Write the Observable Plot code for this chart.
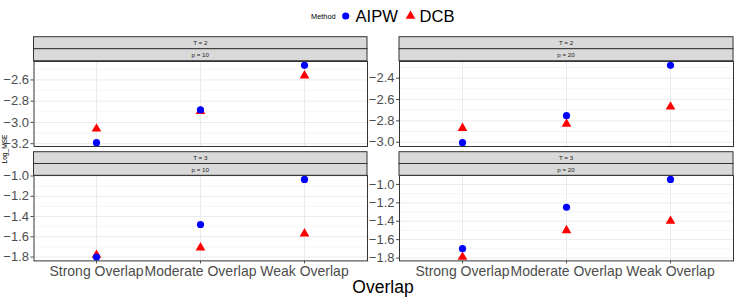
<!DOCTYPE html>
<html>
<head>
<meta charset="utf-8">
<script src="https://cdn.jsdelivr.net/npm/d3@7"></script>
<script src="https://cdn.jsdelivr.net/npm/@observablehq/plot@0.6"></script>
<style>
  html, body { margin: 0; padding: 0; background: #fff; }
  #chart { position: relative; width: 737px; height: 301px; background: #fff; font-family: "Liberation Sans", Arial, sans-serif; }
  #chart > svg { position: absolute; }
</style>
</head>
<body>
<div id="chart"></div>
<script>
// ---------------- data ----------------
const categories = ["Strong Overlap", "Moderate Overlap", "Weak Overlap"];
const methods = ["AIPW", "DCB"];
const methodColors = ["#0000FF", "#FF0000"];
const stripT = ["T = 2", "T = 2", "T = 3", "T = 3"];
const stripP = ["p = 10", "p = 20", "p = 10", "p = 20"];

const aipw_T2_p10 = [-3.19, -2.882, -2.463];
const dcb_T2_p10  = [-3.06, -2.895, -2.56];
const aipw_T2_p20 = [-3.004, -2.751, -2.28];
const dcb_T2_p20  = [-2.868, -2.828, -2.668];
const aipw_T3_p10 = [-1.80, -1.479, -1.033];
const dcb_T3_p10  = [-1.78, -1.708, -1.569];
const aipw_T3_p20 = [-1.698, -1.248, -0.945];
const dcb_T3_p20  = [-1.789, -1.50, -1.398];

const ticks_T2_p10 = [-3.2, -3.0, -2.8, -2.6];
const ticks_T2_p20 = [-3.0, -2.8, -2.6, -2.4];
const ticks_T3_p10 = [-1.8, -1.6, -1.4, -1.2, -1.0];
const ticks_T3_p20 = [-1.8, -1.6, -1.4, -1.2, -1.0];

const yTitle = "Log_MSE";
const xTitle = "Overlap";
const legendTitle = "Method";

// ---------------- layout ----------------
const chart = document.getElementById("chart");
const FONT = '"Liberation Sans", Arial, sans-serif';

const panels = [
  {aipw: aipw_T2_p10, dcb: dcb_T2_p10, ticks: ticks_T2_p10, col: 0, row: 0},
  {aipw: aipw_T2_p20, dcb: dcb_T2_p20, ticks: ticks_T2_p20, col: 1, row: 0},
  {aipw: aipw_T3_p10, dcb: dcb_T3_p10, ticks: ticks_T3_p10, col: 0, row: 1},
  {aipw: aipw_T3_p20, dcb: dcb_T3_p20, ticks: ticks_T3_p20, col: 1, row: 1}
];

const colX = [{left: 33.5, right: 367}, {left: 399, right: 733}];
const rowY = [{stripTop: 36.7, top: 60.7, bottom: 145.7}, {stripTop: 151.7, top: 175.3, bottom: 260.7}];

panels.forEach((p, i) => {
  const cx = colX[p.col], ry = rowY[p.row];
  const svgLeft = p.col === 0 ? 0 : 367;
  const svgTop = ry.top - 8;
  const marginLeft = cx.left - svgLeft;
  const marginRight = 2;
  const marginTop = 8;
  const plotH = ry.bottom - ry.top;
  const marginBottom = p.row === 1 ? 30 : 4;
  const rows = [];
  categories.forEach((c, k) => rows.push({cat: c, val: p.dcb[k], method: "DCB"}));
  categories.forEach((c, k) => rows.push({cat: c, val: p.aipw[k], method: "AIPW"}));
  const ext = d3.extent(rows, d => d.val);
  const pad = (ext[1] - ext[0]) * 0.05;
  const domain = [ext[0] - pad, ext[1] + pad];
  const step = p.ticks[1] - p.ticks[0];
  const minor = [p.ticks[0] - step / 2, ...p.ticks.map(t => t + step / 2)]
    .filter(v => v >= domain[0] && v <= domain[1]);

  const marks = [
    Plot.ruleY(minor, {stroke: "#F0F0F0", strokeWidth: 0.6}),
    Plot.ruleY(p.ticks, {stroke: "#EBEBEB", strokeWidth: 1}),
    Plot.ruleX(categories, {stroke: "#EBEBEB", strokeWidth: 1}),
    Plot.dot(rows, {x: "cat", y: "val", symbol: "method", fill: "method", r: 3.6, stroke: "none"}),
    Plot.frame({stroke: "#333333", strokeWidth: 1}),
    Plot.axisY(p.ticks, {anchor: "left", tickSize: 3, tickPadding: 2, fontSize: 13, color: "#4D4D4D",
      tickFormat: d3.format(".1f"), label: null})
  ];
  if (p.row === 1) {
    marks.push(Plot.axisX(categories, {anchor: "bottom", tickSize: 3, tickPadding: 2, fontSize: 14,
      color: "#4D4D4D", label: null}));
  }

  const svg = Plot.plot({
    width: marginLeft + (cx.right - cx.left) + marginRight,
    height: marginTop + plotH + marginBottom,
    marginLeft, marginRight, marginTop, marginBottom,
    style: {background: "transparent", overflow: "visible", fontFamily: FONT},
    x: {type: "point", domain: categories, padding: 0.6, axis: null},
    y: {domain, axis: null},
    symbol: {domain: methods, range: ["circle", "triangle"]},
    color: {domain: methods, range: methodColors},
    marks
  });
  svg.style.left = svgLeft + "px";
  svg.style.top = svgTop + "px";
  chart.appendChild(svg);
});

// ---------------- strips, titles, legend (overlay) ----------------
const over = d3.select(chart).append("svg")
  .attr("width", 737).attr("height", 301)
  .style("left", "0px").style("top", "0px")
  .style("font-family", FONT);

panels.forEach((p, i) => {
  const cx = colX[p.col], ry = rowY[p.row];
  const h = (ry.top - ry.stripTop) / 2;
  [stripT[i], stripP[i]].forEach((label, j) => {
    const y0 = ry.stripTop + j * h;
    over.append("rect")
      .attr("x", cx.left).attr("y", y0).attr("width", cx.right - cx.left).attr("height", h)
      .attr("fill", "#D9D9D9").attr("stroke", "#333333").attr("stroke-width", 1);
    over.append("text")
      .attr("x", (cx.left + cx.right) / 2).attr("y", y0 + h / 2 + 2.2)
      .attr("text-anchor", "middle").attr("font-size", 6.2).attr("fill", "#1A1A1A")
      .text(label);
  });
});

// axis titles
over.append("text")
  .attr("x", 383).attr("y", 293)
  .attr("text-anchor", "middle").attr("font-size", 17.5).attr("fill", "#000")
  .text(xTitle);
over.append("text")
  .attr("transform", "translate(7,149) rotate(-90)")
  .attr("text-anchor", "middle").attr("font-size", 6.6).attr("fill", "#000")
  .text(yTitle);

// legend
const ly = 16;
over.append("text").attr("x", 311).attr("y", ly + 2.7).attr("font-size", 7.4).attr("fill", "#000").text(legendTitle);
const legendItems = [
  {m: methods[0], sym: d3.symbolCircle, cx: 345.7, tx: 355.5},
  {m: methods[1], sym: d3.symbolTriangle, cx: 410.5, tx: 419.5}
];
legendItems.forEach((it, k) => {
  over.append("path")
    .attr("d", d3.symbol(it.sym, 3.6 * 3.6 * Math.PI)())
    .attr("transform", `translate(${it.cx},${ly})`)
    .attr("fill", methodColors[k]);
  over.append("text").attr("x", it.tx).attr("y", ly + 6).attr("font-size", 16.6).attr("fill", "#000").text(it.m);
});
</script>
</body>
</html>
